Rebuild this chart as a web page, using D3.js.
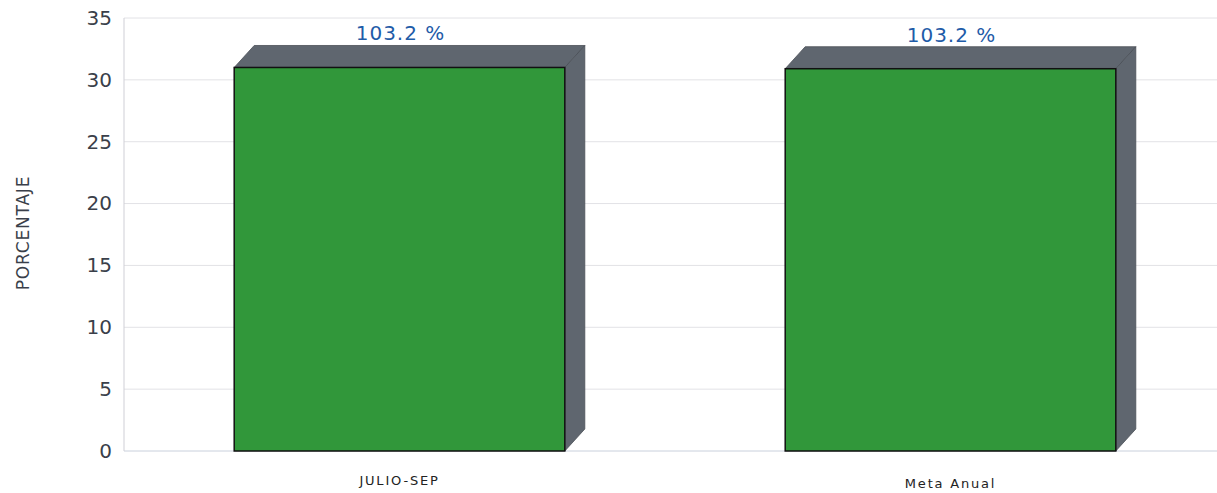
<!DOCTYPE html>
<html><head><meta charset="utf-8">
<script src="https://cdn.jsdelivr.net/npm/d3@7"></script>
<style>body{margin:0;background:#fff}svg{display:block}</style>
</head><body>
<svg id="c" width="1217" height="493"></svg>
<script>
const categories = ["JULIO-SEP", "Meta Anual"];
const values = [31.0, 30.9];
const valueLabels = ["103.2 %", "103.2 %"];
const yTicks = [0, 5, 10, 15, 20, 25, 30, 35];

const svg = d3.select("#c");
const m = {left: 124, top: 18, bottom: 451, right: 1226};
const x = d3.scaleBand().domain(categories).range([m.left, m.right]).paddingInner(0.4).paddingOuter(0.2);
const y = d3.scaleLinear().domain([0, 35]).range([m.bottom, m.top]);
const dx = 20, dy = 22;

// gridlines
svg.append("g").selectAll("line").data(yTicks).join("line")
  .attr("x1", m.left).attr("x2", 1217)
  .attr("y1", d => y(d)).attr("y2", d => y(d))
  .attr("stroke", d => d === 0 ? "#c9d0dc" : "#e2e2e6").attr("stroke-width", 1);
svg.append("line").attr("x1", m.left).attr("x2", m.left).attr("y1", m.top).attr("y2", m.bottom)
  .attr("stroke", "#cfcfd6");

// y tick labels
const yAxis = d3.axisLeft(y).tickValues(yTicks).tickSize(0).tickPadding(12);
const ya = svg.append("g").attr("transform", `translate(${m.left},0)`).call(yAxis);
ya.select(".domain").remove();
ya.selectAll("text").attr("font-family", "DejaVu Sans, sans-serif").attr("font-size", 20).attr("fill", "#3a3f4a");

// y title
svg.append("text").attr("transform", "translate(29,233) rotate(-90)")
  .attr("text-anchor", "middle").attr("font-family", "DejaVu Sans, sans-serif")
  .attr("font-size", 17).attr("letter-spacing", 0.8).attr("fill", "#3a3f4a").text("PORCENTAJE");

// bars
const g = svg.append("g");
categories.forEach((c, i) => {
  const x0 = x(c), x1 = x0 + x.bandwidth(), yt = y(values[i]), yb = y(0);
  g.append("polygon").attr("points", [[x0, yt], [x0 + dx, yt - dy], [x1 + dx, yt - dy], [x1, yt]].join(" "))
    .attr("fill", "#5f666f").attr("stroke", "#4a4f57").attr("stroke-width", 0.8);
  g.append("polygon").attr("points", [[x1, yt], [x1 + dx, yt - dy], [x1 + dx, yb - dy], [x1, yb]].join(" "))
    .attr("fill", "#5f666f").attr("stroke", "#4a4f57").attr("stroke-width", 0.8);
  g.append("rect").attr("x", x0).attr("y", yt).attr("width", x.bandwidth()).attr("height", yb - yt)
    .attr("fill", "#31973a").attr("stroke", "#111").attr("stroke-width", 1.5);
  g.append("text").attr("x", x0 + x.bandwidth() / 2 + 1).attr("y", yt - dy - 5)
    .attr("text-anchor", "middle").attr("font-family", "DejaVu Sans, sans-serif")
    .attr("font-size", 20).attr("letter-spacing", 1).attr("fill", "#1f5ca8").text(valueLabels[i]);
  g.append("text").attr("x", x0 + x.bandwidth() / 2).attr("y", 485 + i * 3)
    .attr("text-anchor", "middle").attr("font-family", "DejaVu Sans, sans-serif")
    .attr("font-size", 13).attr("letter-spacing", 1.8).attr("fill", "#222").text(c);
});
</script>
</body></html>
